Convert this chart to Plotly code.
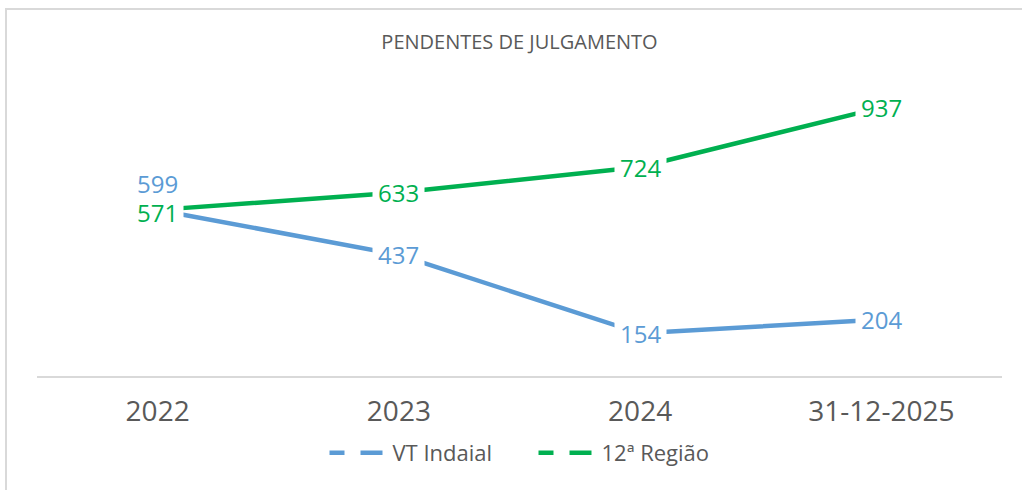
import plotly.graph_objects as go

categories = ["2022", "2023", "2024", "31-12-2025"]
vt_indaial = [599, 437, 154, 204]
regiao_12 = [571, 633, 724, 937]
series_names = ["VT Indaial", "12ª Região"]
title_text = "PENDENTES DE JULGAMENTO"

BLUE = "#5B9BD5"
GREEN = "#00B050"
GREY = "#595959"
FONT = "Open Sans"

W, H = 1022, 490
ML, MR, MT, MB = 37, 20, 60, 114
PW, PH = W - ML - MR, H - MT - MB

fig = go.Figure()

fig.add_trace(go.Scatter(x=categories, y=vt_indaial, mode="lines", line=dict(color=BLUE, width=4.5),
                         yaxis="y", showlegend=False, hoverinfo="skip"))
fig.add_trace(go.Scatter(x=categories, y=regiao_12, mode="lines", line=dict(color=GREEN, width=4.5),
                         yaxis="y2", showlegend=False, hoverinfo="skip"))

# legend-only entries (dashed symbols as in the reference)
LEG_DASH = "0px,4px,15px,16px,22px,60px"
fig.add_trace(go.Scatter(x=[None], y=[None], mode="lines", name=series_names[0],
                         line=dict(color=BLUE, width=4.5, dash=LEG_DASH)))
fig.add_trace(go.Scatter(x=[None], y=[None], mode="lines", name=series_names[1],
                         line=dict(color=GREEN, width=4.5, dash=LEG_DASH)))

# label placement: (series, point) -> vertical shift; series 0 = VT Indaial, 1 = 12ª Região
label_yshift = {(0, 0): 26, (1, 0): -3}
annotations = []
for key_s, vals, color, yref in [(1, regiao_12, GREEN, "y2"), (0, vt_indaial, BLUE, "y")]:
    for i, v in enumerate(vals):
        shift = label_yshift.get((key_s, i), 0)
        above = shift > 5
        annotations.append(dict(x=i, y=v, xref="x", yref=yref, text=str(v), showarrow=False,
                                font=dict(family=FONT, size=24, color=color),
                                bgcolor="rgba(0,0,0,0)" if above else "white", borderpad=5,
                                yshift=shift))

fig.update_layout(
    width=W, height=H,
    margin=dict(l=ML, r=MR, t=MT, b=MB),
    paper_bgcolor="white", plot_bgcolor="white",
    title=dict(text=title_text, x=0.5, xref="paper", xanchor="center",
               y=1 - 42 / H, yref="container", yanchor="middle",
               font=dict(family=FONT, size=20, color=GREY)),
    xaxis=dict(type="category", range=[-0.5, 3.5], showline=True, linecolor="#D9D9D9", linewidth=1.5,
               showgrid=False, zeroline=False, ticks="", ticklabelstandoff=10,
               tickfont=dict(family=FONT, size=28, color=GREY)),
    yaxis=dict(range=[0, 1140], visible=False, showgrid=False, zeroline=False),
    yaxis2=dict(range=[-22, 1106], overlaying="y", visible=False, showgrid=False, zeroline=False),
    legend=dict(orientation="h", x=0.5 + 10 / PW, xanchor="center", xref="paper",
                y=-(453 - (MT + PH)) / PH, yanchor="middle",
                font=dict(family=FONT, size=22, color=GREY), itemwidth=62,
                entrywidth=132, entrywidthmode="pixels",
                bgcolor="rgba(0,0,0,0)"),
    annotations=annotations,
    shapes=[dict(type="rect", xref="paper", yref="paper",
                 x0=(6 - ML) / PW, x1=(W + 20 - ML) / PW,
                 y0=-1, y1=((MT + PH) - 9) / PH,
                 line=dict(color="#D9D9D9", width=2), fillcolor="rgba(0,0,0,0)", layer="below")],
)

fig.write_html("out.html", config={"displayModeBar": False},
               post_script="document.body.style.margin='0';")
